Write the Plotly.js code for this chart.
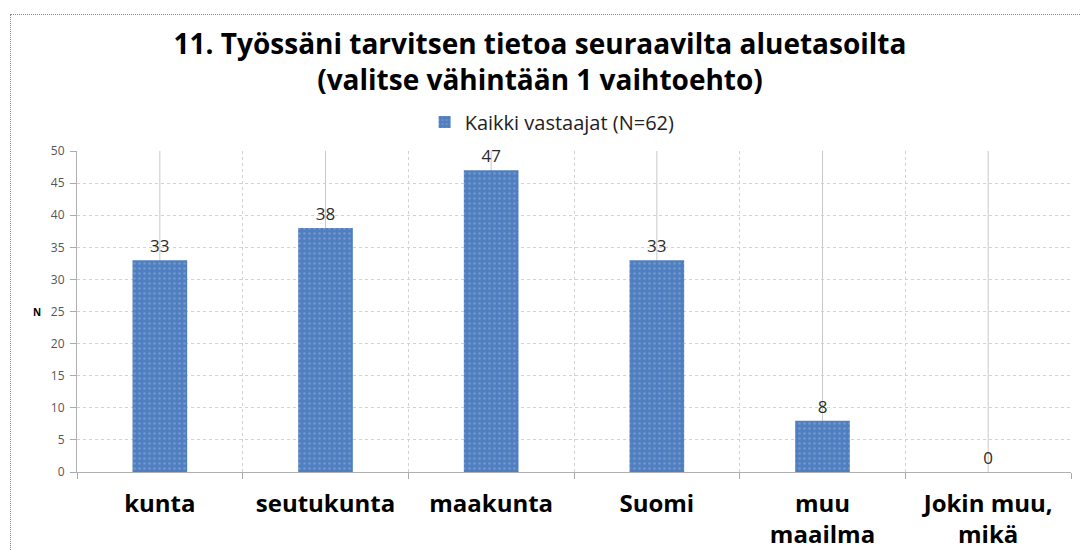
<!DOCTYPE html>
<html>
<head>
<meta charset="utf-8">
<script src="https://cdn.plot.ly/plotly-3.0.1.min.js"></script>
<style>
html,body{margin:0;padding:0;background:#fff;}
#wrap{position:relative;width:1080px;height:550px;overflow:hidden;}
#chart{position:absolute;left:0;top:0;width:1080px;height:550px;}
#frame{position:absolute;left:10px;top:14px;width:1080px;height:560px;border:1px dotted #8a8a8a;pointer-events:none;}
</style>
</head>
<body>
<div id="wrap"><div id="chart"></div><div id="frame"></div></div>
<script>
const categories = ["kunta", "seutukunta", "maakunta", "Suomi", "muu<br>maailma", "Jokin muu,<br>mikä"];
const values = [33, 38, 47, 33, 8, 0];
const seriesName = "Kaikki vastaajat (N=62)";
const yTicks = [0, 5, 10, 15, 20, 25, 30, 35, 40, 45, 50];
const yTitle = "N";

const trace = {
  type: "bar",
  x: categories,
  y: values,
  name: seriesName,
  showlegend: true,
  text: values.map(String),
  textposition: "outside",
  cliponaxis: false,
  textfont: {family: "Open Sans, sans-serif", size: 17, color: "#2b2b2b"},
  marker: {
    color: "#4f7fc0",
    line: {width: 0},
    pattern: {shape: ".", fgcolor: "#7398cc", bgcolor: "#4f7fc0", size: 5, solidity: 0.2}
  }
};

const centerLines = categories.map((c, i) => ({
  type: "line", xref: "x", yref: "paper", x0: i, x1: i, y0: 0, y1: 1,
  layer: "below", line: {color: "#c9c9c9", width: 1}
}));

const layout = {
  width: 1080, height: 550,
  margin: {l: 77, r: 9, t: 151, b: 78},
  paper_bgcolor: "#ffffff", plot_bgcolor: "#ffffff",
  font: {family: "Open Sans, sans-serif", color: "#000"},
  title: {
    text: "<b>11. Työssäni tarvitsen tietoa seuraavilta aluetasoilta<br>(valitse vähintään 1 vaihtoehto)</b>",
    x: 0.5, xanchor: "center", y: 0.955, yanchor: "top",
    font: {family: "Open Sans, sans-serif", size: 28, color: "#000"}
  },
  showlegend: true,
  legend: {
    orientation: "h", x: 0.478, xanchor: "center", y: 1.09, yanchor: "middle",
    font: {family: "Open Sans, sans-serif", size: 20, color: "#222"},
    itemwidth: 30
  },
  xaxis: {
    type: "category",
    tickson: "boundaries",
    ticks: "outside", ticklen: 6, tickcolor: "#aaaaaa",
    showgrid: true, gridcolor: "#d2d2d2", griddash: "dot", gridwidth: 1,
    showline: true, linecolor: "#b0b0b0", linewidth: 1,
    tickfont: {family: "Open Sans, sans-serif", size: 24, color: "#000", weight: "bold"},
    ticklabelstandoff: 10,
    automargin: false,
    fixedrange: true
  },
  yaxis: {
    range: [0, 50],
    tickvals: yTicks,
    ticktext: yTicks.map(String),
    ticks: "outside", ticklen: 6, tickcolor: "#aaaaaa",
    ticklabelstandoff: 3,
    showgrid: true, gridcolor: "#d2d2d2", griddash: "dot", gridwidth: 1,
    showline: true, linecolor: "#b0b0b0", linewidth: 1,
    zeroline: false,
    tickfont: {family: "Open Sans, sans-serif", size: 12, color: "#555"},
    automargin: false,
    fixedrange: true
  },
  annotations: [{
    text: "<b>" + yTitle + "</b>", xref: "paper", yref: "y", x: -0.04, y: 25,
    xanchor: "center", yanchor: "middle", showarrow: false,
    font: {family: "Open Sans, sans-serif", size: 10, color: "#000"}
  }],
  shapes: centerLines,
  bargap: 0.67
};

Plotly.newPlot("chart", [trace], layout, {displayModeBar: false, staticPlot: true}).then(gd => {
  const t = gd.querySelector(".gtitle");
  if (t) { t.setAttribute("transform", "translate(0,29)"); }
});
</script>
</body>
</html>
